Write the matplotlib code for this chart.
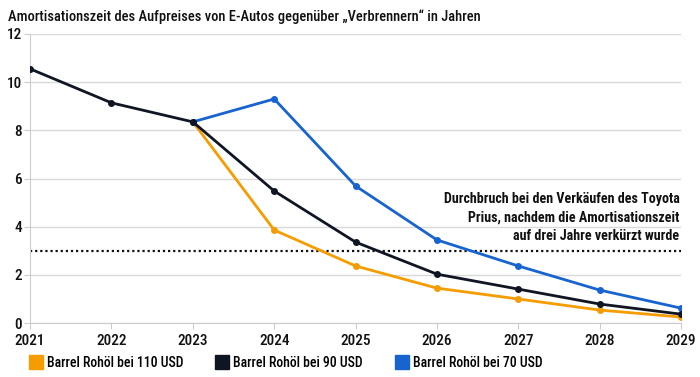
import matplotlib
matplotlib.use("Agg")
import matplotlib.pyplot as plt
from matplotlib.lines import Line2D

years = [2021, 2022, 2023, 2024, 2025, 2026, 2027, 2028, 2029]
oil_90 = [10.55, 9.14, 8.35, 5.48, 3.36, 2.03, 1.41, 0.79, 0.37]
years_split = [2023, 2024, 2025, 2026, 2027, 2028, 2029]
oil_110 = [8.35, 3.86, 2.37, 1.45, 1.0, 0.54, 0.25]
oil_70 = [8.35, 9.3, 5.69, 3.45, 2.37, 1.37, 0.62]
labels = ["Barrel Rohöl bei 110 USD", "Barrel Rohöl bei 90 USD", "Barrel Rohöl bei 70 USD"]
threshold = 3
y_ticks = [0, 2, 4, 6, 8, 10, 12]

plt.rcParams["font.family"] = ["Roboto Condensed", "DejaVu Sans"]
plt.rcParams["font.weight"] = 500

ORANGE = "#F59C00"
BLACK = "#0F1523"
BLUE = "#1763CF"

fig = plt.figure(figsize=(7, 3.77), dpi=100)
ax = fig.add_axes([0.043, 0.143, 0.930, 0.767])

ax.plot(years_split, oil_110, color=ORANGE, lw=2, marker="o", ms=4, zorder=3)
ax.plot(years_split, oil_70, color=BLUE, lw=2, marker="o", ms=4, zorder=3)
ax.plot(years, oil_90, color=BLACK, lw=2, marker="o", ms=4, zorder=4)

ax.axhline(threshold, color="#111111", lw=1.6, ls=(0, (1, 1.3)), zorder=2)
ax.text(2028.98, 3.33, "Durchbruch bei den Verkäufen des Toyota\nPrius, nachdem die Amortisationszeit\nauf drei Jahre verkürzt wurde",
        ha="right", va="bottom", fontsize=10.1, fontweight="bold", color="#111111", linespacing=1.4)

ax.set_xlim(2021, 2029)
ax.set_ylim(0, 12)
ax.set_xticks(years)
ax.set_yticks(y_ticks)
ax.grid(axis="y", color="#d9d9d9", lw=1)
ax.set_axisbelow(True)
for s in ["top", "right"]:
    ax.spines[s].set_visible(False)
for s in ["left", "bottom"]:
    ax.spines[s].set_color("#cccccc")
ax.tick_params(axis="both", labelsize=11, colors="#cccccc", labelcolor="#111111", length=4)
ax.tick_params(axis="y", length=4, pad=2)
ax.tick_params(axis="x", pad=4)

fig.text(0.011, 0.955, "Amortisationszeit des Aufpreises von E-Autos gegenüber „Verbrennern“ in Jahren",
         fontsize=10.45, color="#111111", va="center")

handles = [Line2D([], [], ls="none", marker="s", ms=10, mfc=c, mec=c) for c in [ORANGE, BLACK, BLUE]]
fig.legend(handles, labels, loc="center left", bbox_to_anchor=(0.024, 0.037), ncol=3, frameon=False,
           fontsize=9.9, handletextpad=0.3, columnspacing=2.32, handlelength=1.0)

fig.savefig("out.png", dpi=100)
